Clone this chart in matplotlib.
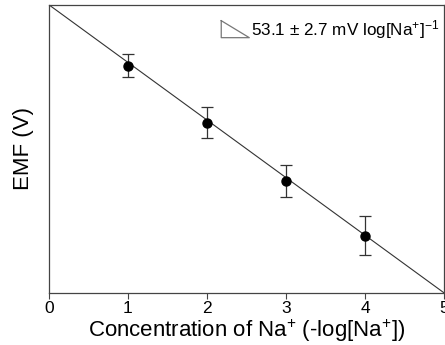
import matplotlib
matplotlib.use('Agg')
import matplotlib.pyplot as plt
from matplotlib.lines import Line2D

plt.rcParams['font.family'] = ['Liberation Sans', 'DejaVu Sans']
plt.rcParams['mathtext.fontset'] = 'custom'
plt.rcParams['mathtext.rm'] = 'Liberation Sans'
plt.rcParams['mathtext.it'] = 'Liberation Sans:italic'

# data (EMF in arbitrary units)
conc = [1, 2, 3, 4]
emf = [0.788, 0.590, 0.389, 0.198]
emf_err = [0.040, 0.054, 0.056, 0.068]
fit_x = [0, 5]
fit_y = [1.0, 0.0]

fig = plt.figure(figsize=(4.45, 3.45), dpi=100)
ax = fig.add_axes([0.110, 0.151, 0.888, 0.835])

ax.plot(fit_x, fit_y, color='#333333', lw=0.8)
ax.errorbar(conc, emf, yerr=emf_err, fmt='o', color='black', ms=6.5,
            ecolor='#333333', elinewidth=0.9, capsize=4, capthick=0.9)

ax.set_xlim(0, 5)
ax.set_ylim(0, 1)
ax.set_xticks([0, 1, 2, 3, 4, 5])
ax.set_yticks([])
ax.tick_params(axis='x', direction='out', length=4, labelsize=12.5, pad=2,
               color='#444444')
for s in ax.spines.values():
    s.set_color('#444444')
    s.set_linewidth(0.9)

ax.set_xlabel('Concentration of Na$^{+}$ (-log[Na$^{+}$])', fontsize=16,
              labelpad=1)
ax.set_ylabel('EMF (V)', fontsize=16, labelpad=11)

# slope legend: triangle + text
tri = Line2D([0.436, 0.436, 0.507, 0.436], [0.945, 0.886, 0.886, 0.945],
             transform=ax.transAxes, color='#777777', lw=0.9)
ax.add_line(tri)
ax.text(0.512, 0.913, '53.1 ± 2.7 mV log[Na$^{+}$]$^{-1}$',
        transform=ax.transAxes, fontsize=12.3, va='center', ha='left')

fig.savefig('out.png', dpi=100)
